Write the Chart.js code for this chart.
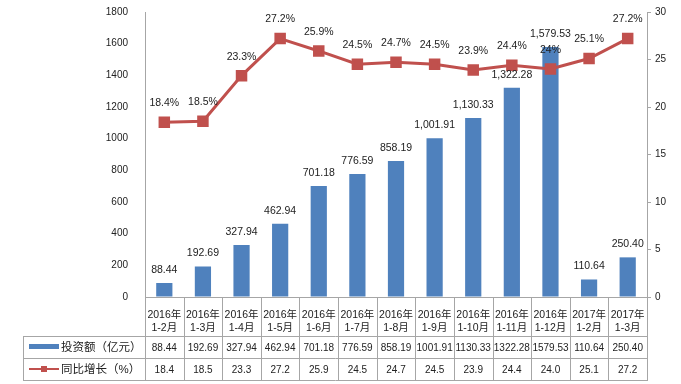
<!DOCTYPE html>
<html>
<head>
<meta charset="utf-8">
<script src="https://cdn.jsdelivr.net/npm/chart.js@4.4.0/dist/chart.umd.min.js"></script>
<style>
  html, body { margin: 0; padding: 0; background: #fff; }
  #wrap { width: 681px; height: 384px; position: relative; }
</style>
</head>
<body>
<div id="wrap"><canvas id="myChart"></canvas></div>
<script>
// chart data
var categories = [
    ['2016年', '1-2月'], ['2016年', '1-3月'], ['2016年', '1-4月'], ['2016年', '1-5月'],
    ['2016年', '1-6月'], ['2016年', '1-7月'], ['2016年', '1-8月'], ['2016年', '1-9月'],
    ['2016年', '1-10月'], ['2016年', '1-11月'], ['2016年', '1-12月'], ['2017年', '1-2月'],
    ['2017年', '1-3月']
];
var investment = [88.44, 192.69, 327.94, 462.94, 701.18, 776.59, 858.19, 1001.91, 1130.33, 1322.28, 1579.53, 110.64, 250.40];
var growth = [18.4, 18.5, 23.3, 27.2, 25.9, 24.5, 24.7, 24.5, 23.9, 24.4, 24.0, 25.1, 27.2];
var seriesNames = ['投资额（亿元）', '同比增长（%）'];
var leftTicks = [0, 1800, 200];
var rightTicks = [0, 30, 5];

var BLUE = '#4F81BD';
var RED = '#C0504D';
var GRID = '#a6a6a6';
var FONT = '"Liberation Sans", "Noto Sans CJK SC", sans-serif';

function money(v) {
    return v.toLocaleString('en-US', { minimumFractionDigits: 2, maximumFractionDigits: 2 });
}

// value labels above bars and points
var labelPlugin = {
    id: 'valueLabels',
    afterDatasetsDraw: function(chart) {
        var ctx = chart.ctx;
        ctx.save();
        ctx.font = '10.5px ' + FONT;
        ctx.fillStyle = '#222';
        ctx.textAlign = 'center';
        ctx.textBaseline = 'middle';
        var barMeta = chart.getDatasetMeta(1);
        barMeta.data.forEach(function(el, i) {
            ctx.fillText(money(investment[i]), el.x, el.y - 13);
        });
        var lineMeta = chart.getDatasetMeta(0);
        lineMeta.data.forEach(function(el, i) {
            ctx.fillText(Number(growth[i]) + '%', el.x, el.y - 19);
        });
        ctx.restore();
    }
};

// data table under the x axis
var tablePlugin = {
    id: 'dataTable',
    afterDraw: function(chart) {
        var ctx = chart.ctx;
        var area = chart.chartArea;
        var xs = chart.scales.x;
        var n = categories.length;
        var cw = (area.right - area.left) / n;
        var top = area.bottom;
        var r1 = top + 39, r2 = r1 + 22, r3 = r2 + 22;
        var tableLeft = 23;

        ctx.save();
        ctx.strokeStyle = GRID;
        ctx.lineWidth = 1;
        ctx.beginPath();
        for (var i = 0; i <= n; i++) {
            var bx = Math.round(area.left + i * cw) + 0.5;
            ctx.moveTo(bx, top);
            ctx.lineTo(bx, r3);
        }
        ctx.moveTo(tableLeft + 0.5, r1);
        ctx.lineTo(tableLeft + 0.5, r3);
        [r1, r2, r3].forEach(function(y) {
            ctx.moveTo(tableLeft, Math.round(y) + 0.5);
            ctx.lineTo(area.right + 1, Math.round(y) + 0.5);
        });
        ctx.stroke();

        ctx.font = '10px ' + FONT;
        ctx.fillStyle = '#222';
        ctx.textAlign = 'center';
        ctx.textBaseline = 'middle';
        for (var j = 0; j < n; j++) {
            var cx = xs.getPixelForValue(j);
            ctx.fillText(investment[j].toFixed(2), cx, (r1 + r2) / 2 + 1);
            ctx.fillText(growth[j].toFixed(1), cx, (r2 + r3) / 2 + 1);
        }

        // legend keys
        var ym1 = (r1 + r2) / 2, ym2 = (r2 + r3) / 2;
        ctx.fillStyle = BLUE;
        ctx.fillRect(29, ym1 - 3, 30, 5);
        ctx.strokeStyle = RED;
        ctx.lineWidth = 2;
        ctx.beginPath();
        ctx.moveTo(29, ym2);
        ctx.lineTo(59, ym2);
        ctx.stroke();
        ctx.fillStyle = RED;
        ctx.fillRect(41, ym2 - 3, 6, 6);

        ctx.font = '11.5px ' + FONT;
        ctx.fillStyle = '#222';
        ctx.textAlign = 'left';
        ctx.fillText(seriesNames[0], 61, ym1 + 1);
        ctx.fillText(seriesNames[1], 61, ym2 + 1);
        ctx.restore();
    }
};

function renderChart() {
    var ctx = document.getElementById('myChart').getContext('2d');
    var chart = new Chart(ctx, {
        type: 'bar',
        data: {
            labels: categories,
            datasets: [{
                type: 'line',
                label: seriesNames[1],
                data: growth,
                yAxisID: 'y1',
                borderColor: RED,
                backgroundColor: RED,
                borderWidth: 3,
                pointStyle: 'rect',
                pointRadius: 6,
                pointHoverRadius: 6,
                tension: 0,
                order: 0
            }, {
                type: 'bar',
                label: seriesNames[0],
                data: investment,
                yAxisID: 'y',
                backgroundColor: BLUE,
                barPercentage: 0.42,
                categoryPercentage: 1,
                order: 1
            }]
        },
        options: {
            responsive: true,
            maintainAspectRatio: false,
            animation: false,
            layout: { autoPadding: false, padding: { left: 0, right: 0, top: 12, bottom: 48 } },
            plugins: {
                legend: { display: false },
                tooltip: { enabled: false }
            },
            scales: {
                x: {
                    grid: { display: false },
                    border: { display: true, color: GRID },
                    ticks: {
                        color: '#222',
                        font: { family: FONT, size: 10.5 },
                        maxRotation: 0,
                        autoSkip: false,
                        padding: 4
                    },
                    afterFit: function(scale) { scale.height = 39; }
                },
                y: {
                    position: 'left',
                    min: leftTicks[0],
                    max: leftTicks[1],
                    // invisible tick marks push the labels away from the axis
                    grid: { display: true, drawOnChartArea: false, drawTicks: true, tickLength: 13, tickColor: 'rgba(0,0,0,0)' },
                    border: { display: true, color: GRID },
                    ticks: {
                        stepSize: leftTicks[2],
                        color: '#222',
                        font: { family: FONT, size: 10 },
                        padding: 4,
                        callback: function(v) { return String(v); }
                    },
                    afterFit: function(scale) { scale.width = 145; }
                },
                y1: {
                    position: 'right',
                    min: rightTicks[0],
                    max: rightTicks[1],
                    grid: { drawOnChartArea: false, color: GRID, tickLength: 4 },
                    border: { display: true, color: GRID },
                    ticks: {
                        stepSize: rightTicks[2],
                        color: '#222',
                        font: { family: FONT, size: 10 },
                        padding: 4
                    },
                    afterFit: function(scale) { scale.width = 34; }
                }
            }
        },
        plugins: [labelPlugin, tablePlugin]
    });
}
window.onload = renderChart;
</script>
</body>
</html>
